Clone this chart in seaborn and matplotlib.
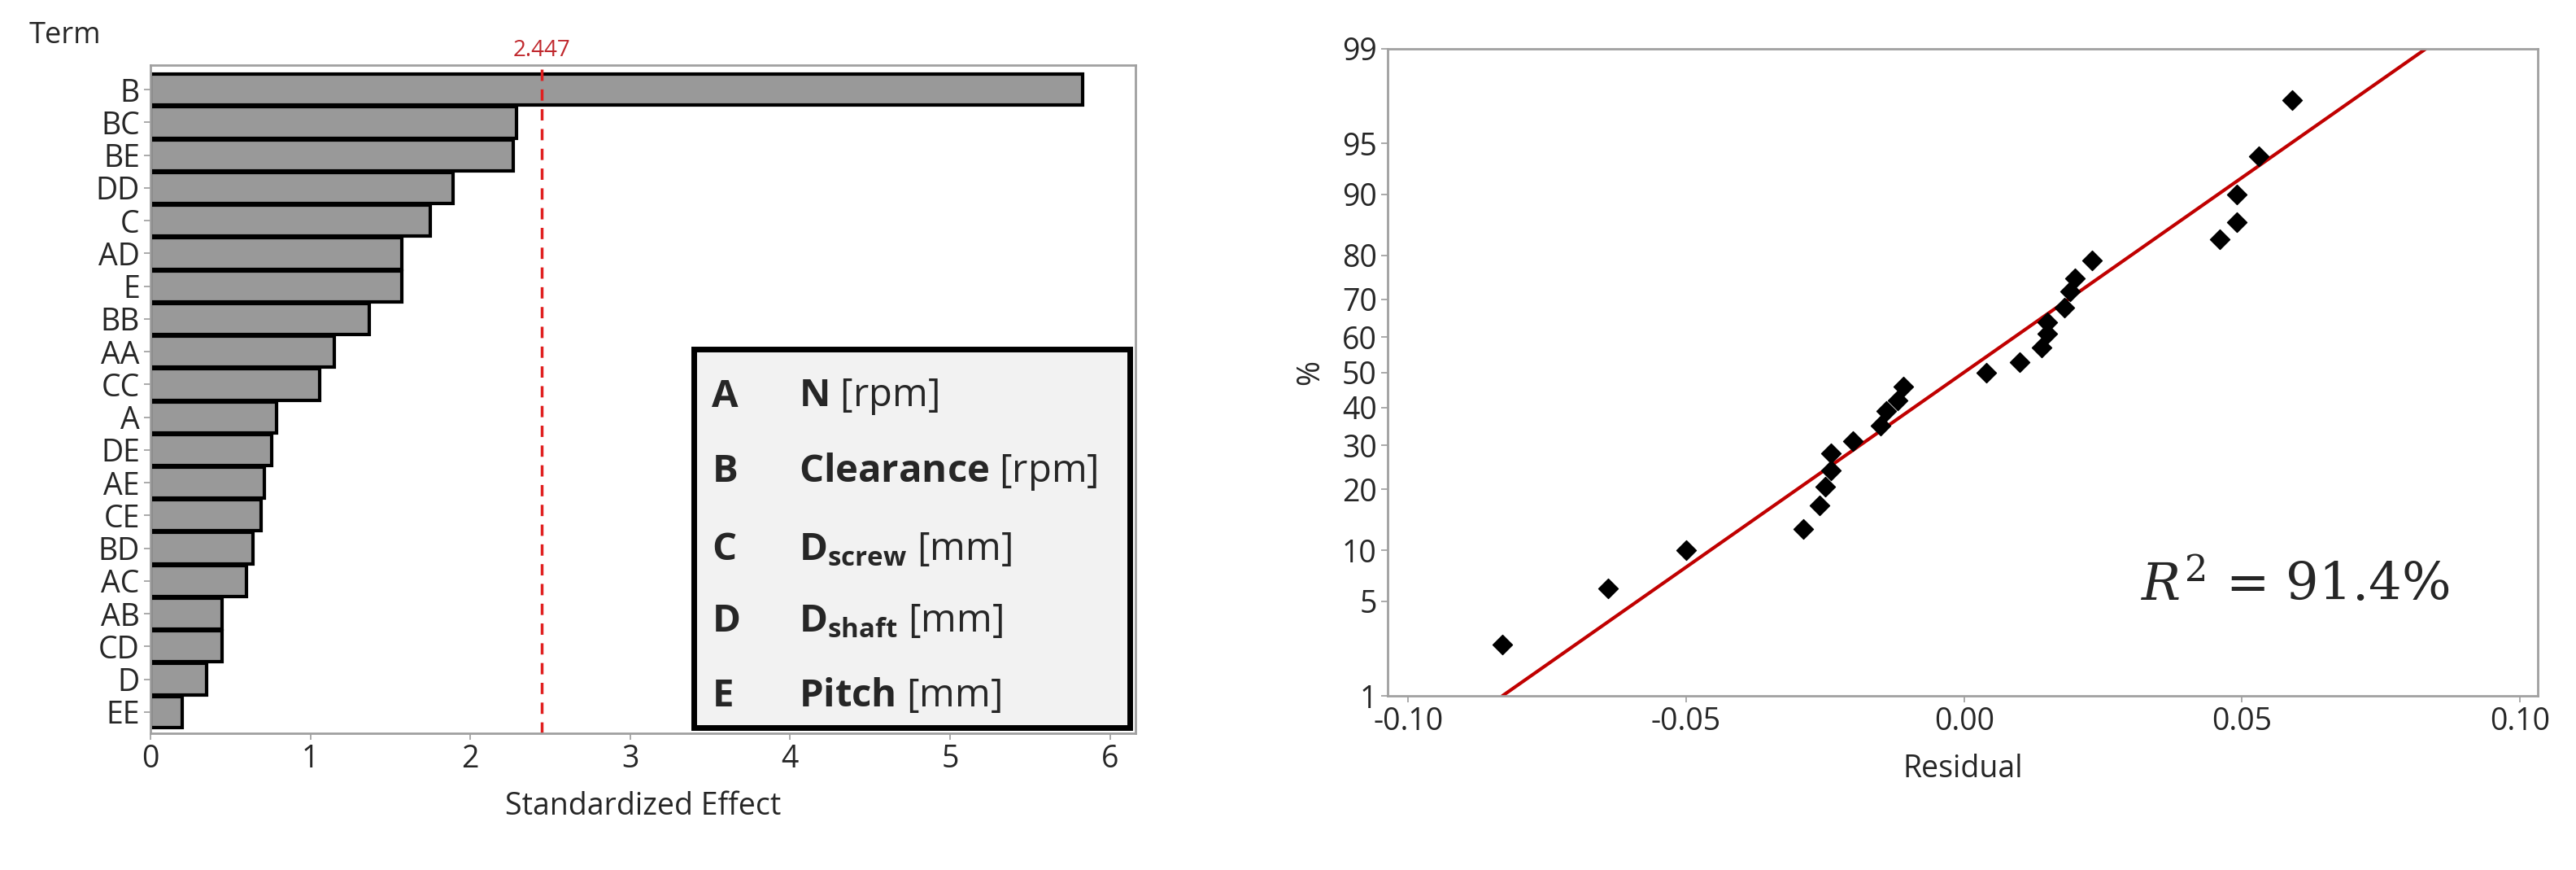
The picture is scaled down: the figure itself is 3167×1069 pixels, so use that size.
import matplotlib
matplotlib.use("Agg")
import matplotlib.pyplot as plt
import seaborn as sns
import numpy as np
import pandas as pd
from statistics import NormalDist
from matplotlib.patches import Rectangle

terms = ["B","BC","BE","DD","C","AD","E","BB","AA","CC","A","DE","AE","CE","BD","AC","AB","CD","D","EE"]
effects = [5.83,2.29,2.27,1.89,1.75,1.57,1.57,1.37,1.15,1.06,0.79,0.76,0.71,0.69,0.64,0.60,0.45,0.45,0.35,0.20]
crit = 2.447
effect_ticks = [0,1,2,3,4,5,6]

legend_keys = ["A","B","C","D","E"]
legend_names = [r"$\mathbf{N}$ [rpm]", r"$\mathbf{Clearance}$ [rpm]", r"$\mathbf{D_{screw}}$ [mm]",
                r"$\mathbf{D_{shaft}}$ [mm]", r"$\mathbf{Pitch}$ [mm]"]

residuals = [-0.083,-0.064,-0.050,-0.029,-0.026,-0.025,-0.024,-0.024,-0.020,-0.015,-0.014,-0.012,-0.011,
             0.004,0.010,0.014,0.015,0.015,0.018,0.019,0.020,0.023,0.046,0.049,0.049,0.053,0.059]
percents = [2.5,6,10,13,17,20.5,24,28,31,35,39,42,46,50,53,57,61,64,68,72,75,79,83,86,90,94,97.5]
fit_mu = 0.0
fit_sigma = 0.0357
pct_ticks = [1,5,10,20,30,40,50,60,70,80,90,95,99]
res_ticks = [-0.10,-0.05,0.00,0.05,0.10]

sns.set_theme(style="white")
plt.rcParams['font.family'] = ['Open Sans', 'DejaVu Sans']
plt.rcParams['mathtext.fontset'] = 'custom'
plt.rcParams['mathtext.rm'] = 'DejaVu Serif'
plt.rcParams['mathtext.it'] = 'DejaVu Serif:italic'
plt.rcParams['mathtext.bf'] = 'Open Sans:bold'

fig = plt.figure(figsize=(31.67, 10.69), dpi=100)
W, H = 3167, 1069
ax1 = fig.add_axes([185/W, 1-901/H, (1396-185)/W, (901-80)/H])
ax2 = fig.add_axes([1706/W, 1-855/H, (3120-1706)/W, (855-60)/H])

# Left: Pareto
df = pd.DataFrame({"term": terms, "effect": effects})
sns.barplot(data=df, x="effect", y="term", orient="h", color="#999999", saturation=1,
            edgecolor="black", linewidth=3, width=0.95, ax=ax1)
ax1.set_xlim(0, 6.16)
ax1.set_ylim(len(terms)-0.35, -0.75)
ax1.set_xticks(effect_ticks)
ax1.tick_params(axis='both', labelsize=27, length=6, color="#a0a0a0", left=True, bottom=True)
ax1.set_xlabel("Standardized Effect", fontsize=27, labelpad=14)
ax1.set_ylabel("")
ax1.axvline(crit, color="#e02020", ls=(0, (4, 3)), lw=2.5)
ax1.text(crit, 1.005, f"{crit:.3f}", transform=ax1.get_xaxis_transform(), color="#c0282d",
         ha="center", va="bottom", fontsize=20)
for s in ax1.spines.values():
    s.set_color("#a0a0a0"); s.set_linewidth(2)
fig.text(36/W, 1-44/H, "Term", fontsize=26, va="center", ha="left")

ax1.add_patch(Rectangle((0.552, 0.009), 0.442, 0.566, transform=ax1.transAxes,
                        facecolor="#f2f2f2", edgecolor="black", linewidth=5, zorder=5))
rows_y = [0.504, 0.392, 0.275, 0.168, 0.056]
for k, nm, yy in zip(legend_keys, legend_names, rows_y):
    ax1.text(0.570, yy, k, transform=ax1.transAxes, fontsize=34, fontweight="bold",
             va="center", ha="left", zorder=6)
    ax1.text(0.658, yy, nm, transform=ax1.transAxes, fontsize=34, va="center", ha="left", zorder=6)

# Right: normal probability plot
nd = NormalDist()
z_pts = [nd.inv_cdf(p/100) for p in percents]
dfp = pd.DataFrame({"res": residuals, "z": z_pts})
sns.scatterplot(data=dfp, x="res", y="z", marker="D", color="black", s=150, edgecolor="black", ax=ax2, zorder=3)
z_line = np.array([nd.inv_cdf(0.01), nd.inv_cdf(0.99)])
dfl = pd.DataFrame({"res": fit_mu + fit_sigma*z_line, "z": z_line})
sns.lineplot(data=dfl, x="res", y="z", color="#c00000", lw=3, ax=ax2, zorder=2)
ax2.set_xlim(-0.1037, 0.1032)
ax2.set_ylim(nd.inv_cdf(0.01), nd.inv_cdf(0.99))
ax2.set_yticks([nd.inv_cdf(p/100) for p in pct_ticks])
ax2.set_yticklabels([str(p) for p in pct_ticks])
ax2.set_xticks(res_ticks)
ax2.set_xticklabels([f"{t:.2f}" for t in res_ticks])
ax2.tick_params(axis='both', labelsize=27, length=6, color="#a0a0a0", left=True, bottom=True)
ax2.set_xlabel("Residual", fontsize=27, labelpad=14)
ax2.set_ylabel("%", fontsize=27, labelpad=14)
for s in ax2.spines.values():
    s.set_color("#a0a0a0"); s.set_linewidth(2)
ax2.text(0.655, 0.17, r"$R^2$ = 91.4%", transform=ax2.transAxes, fontsize=46,
         family="DejaVu Serif", va="center", ha="left")

fig.savefig("out.png", dpi=100)
